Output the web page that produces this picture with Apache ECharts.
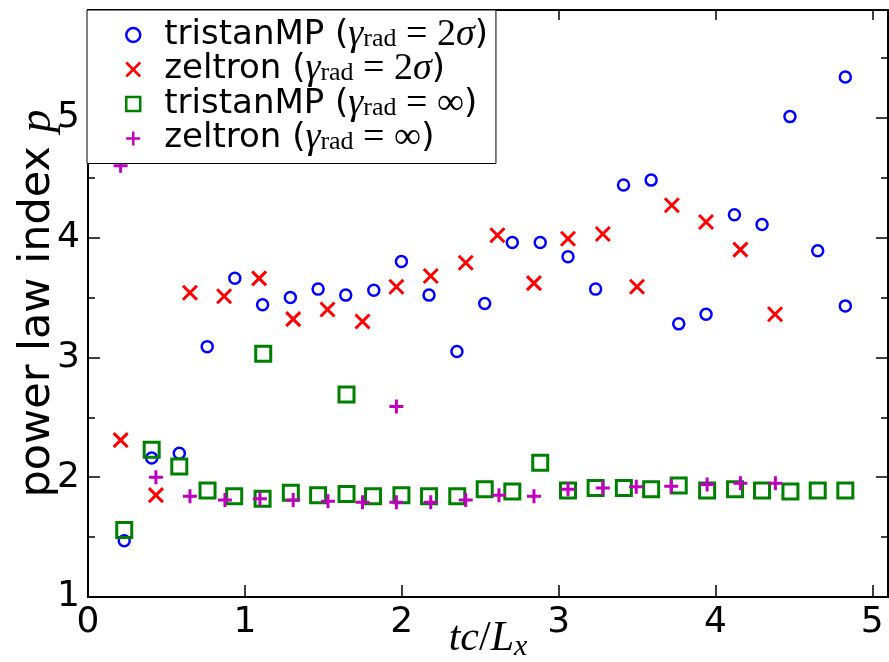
<!DOCTYPE html>
<html>
<head>
<meta charset="utf-8">
<script src="https://cdn.jsdelivr.net/npm/echarts@6/dist/echarts.min.js"></script>
<style>
  html, body { margin: 0; padding: 0; background: #fff; }
  #chart { width: 889px; height: 662px; }
</style>
</head>
<body>
<div id="chart"></div>
<script>
// ---- data ----
const xTicks = [0, 1, 2, 3, 4, 5];
const yTicks = [1, 2, 3, 4, 5];

const seriesNames = [
  'tristanMP (rad=2σ)',
  'zeltron (rad=2σ)',
  'tristanMP (rad=∞)',
  'zeltron (rad=∞)'
];

// tristanMP, gamma_rad = 2 sigma (blue circles)
const tristanTime = [0.231, 0.406, 0.582, 0.760, 0.936, 1.113, 1.290, 1.467, 1.643, 1.822, 1.998, 2.174, 2.352, 2.529, 2.705, 2.883, 3.060, 3.236, 3.414, 3.590, 3.766, 3.940, 4.121, 4.297, 4.475, 4.652, 4.828, 4.828];
const tristanRad  = [1.47, 2.16, 2.20, 3.09, 3.66, 3.44, 3.50, 3.57, 3.52, 3.56, 3.80, 3.52, 3.05, 3.45, 3.96, 3.96, 3.84, 3.57, 4.44, 4.48, 3.28, 3.36, 4.19, 4.11, 5.01, 3.89, 5.34, 3.43];

// zeltron, gamma_rad = 2 sigma (red crosses)
const zeltronTime = [0.208, 0.433, 0.650, 0.868, 1.091, 1.308, 1.527, 1.750, 1.966, 2.185, 2.408, 2.610, 2.843, 3.060, 3.282, 3.500, 3.722, 3.940, 4.159, 4.380];
const zeltronRad  = [2.31, 1.85, 3.54, 3.51, 3.66, 3.32, 3.40, 3.30, 3.59, 3.68, 3.79, 4.02, 3.62, 3.99, 4.03, 3.59, 4.27, 4.13, 3.90, 3.36];

// tristanMP, gamma_rad = infinity (green squares)
const tristanInfTime = [0.231, 0.406, 0.582, 0.762, 0.932, 1.113, 1.117, 1.293, 1.467, 1.648, 1.648, 1.817, 1.998, 2.174, 2.354, 2.529, 2.705, 2.883, 3.060, 3.236, 3.416, 3.590, 3.766, 3.947, 4.125, 4.297, 4.478, 4.652, 4.828];
const tristanInf     = [1.56, 2.23, 2.09, 1.89, 1.84, 1.82, 3.03, 1.87, 1.85, 1.86, 2.69, 1.84, 1.85, 1.84, 1.84, 1.90, 1.88, 2.12, 1.89, 1.91, 1.91, 1.90, 1.93, 1.89, 1.90, 1.89, 1.88, 1.89, 1.89];

// zeltron, gamma_rad = infinity (magenta plus)
const zeltronInfTime = [0.208, 0.433, 0.650, 0.873, 1.096, 1.308, 1.530, 1.750, 1.966, 1.966, 2.185, 2.408, 2.620, 2.843, 3.060, 3.282, 3.495, 3.718, 3.947, 4.159, 4.382];
const zeltronInf     = [4.60, 2.00, 1.84, 1.81, 1.82, 1.81, 1.80, 1.79, 1.79, 2.59, 1.79, 1.81, 1.85, 1.84, 1.90, 1.91, 1.92, 1.925, 1.94, 1.95, 1.95];

// ---- build ----
const zip = (xs, ys) => xs.map((x, i) => [x, ys[i]]);

const SANS = 'DejaVu Sans';
const SERIF = 'Liberation Serif';

const legendRich = {
  s:   { fontFamily: SANS, fontSize: 34, lineHeight: 34, color: '#000' },
  mi:  { fontFamily: SERIF, fontStyle: 'italic', fontSize: 38, lineHeight: 34, color: '#000' },
  mr:  { fontFamily: SERIF, fontSize: 38, lineHeight: 34, color: '#000' },
  sub: { fontFamily: SERIF, fontSize: 26, lineHeight: 20, verticalAlign: 'bottom', color: '#000' }
};

function legendFormatter(name) {
  const label = name.split(' (')[0];
  const isInf = name.indexOf('∞') >= 0;
  const rhs = isInf ? '{mr|∞}' : '{mr|2}{mi|σ}';
  return '{s|' + label + ' (}{mi|γ}{sub|rad}{mr| = }' + rhs + '{s|)}';
}

const axisLineStyle = { color: '#000', width: 2 };

function yAxisCfg(position, interval, tickLen, showLabel) {
  return {
    type: 'value', position: position, min: 1, max: 5.9, interval: interval,
    axisLine: { show: true, onZero: false, lineStyle: axisLineStyle },
    axisTick: { show: true, inside: true, length: tickLen, lineStyle: { color: '#000', width: 1.5 } },
    axisLabel: {
      show: showLabel, fontFamily: SANS, fontSize: 36, color: '#000', margin: 8,
      formatter: v => (yTicks.indexOf(v) >= 0 ? String(v) : '')
    },
    splitLine: { show: false }
  };
}

const option = {
  animation: false,
  backgroundColor: '#fff',
  grid: { left: 88, right: 1, top: 10, bottom: 65, containLabel: false, outerBoundsMode: 'none' },
  legend: {
    orient: 'vertical',
    left: 87, top: 10,
    padding: [6, 8, 6, 38],
    itemGap: -3.5,
    itemWidth: 14, itemHeight: 14,
    backgroundColor: '#fff',
    borderColor: '#000', borderWidth: 1, borderRadius: 0,
    itemStyle: { borderWidth: 2.5 },
    data: seriesNames,
    formatter: legendFormatter,
    textStyle: { rich: legendRich, padding: [0, 0, 0, 19] },
    selectedMode: false
  },
  xAxis: [
    {
      type: 'value', position: 'bottom', min: 0, max: 5.1, interval: 1,
      axisLine: { show: true, onZero: false, lineStyle: axisLineStyle },
      axisTick: { show: true, inside: true, length: 12, lineStyle: { color: '#000', width: 1.5 } },
      axisLabel: {
        fontFamily: SANS, fontSize: 36, color: '#000', margin: 8,
        formatter: v => (xTicks.indexOf(v) >= 0 ? String(v) : '')
      },
      splitLine: { show: false },
      name: '{i|tc}{r|/}{i|L}{sub|x}',
      nameLocation: 'middle',
      nameGap: 19,
      nameMoveOverlap: false,
      nameTextStyle: {
        rich: {
          i:   { fontFamily: SERIF, fontStyle: 'italic', fontSize: 42, lineHeight: 46, color: '#000' },
          r:   { fontFamily: SERIF, fontSize: 42, lineHeight: 46, color: '#000' },
          sub: { fontFamily: SERIF, fontStyle: 'italic', fontSize: 30, lineHeight: 24, verticalAlign: 'bottom', color: '#000' }
        }
      }
    },
    {
      type: 'value', position: 'top', min: 0, max: 5.1, interval: 1,
      axisLine: { show: true, onZero: false, lineStyle: axisLineStyle },
      axisTick: { show: true, inside: true, length: 10, lineStyle: { color: '#000', width: 1.5 } },
      axisLabel: { show: false },
      splitLine: { show: false }
    }
  ],
  yAxis: [
    Object.assign(yAxisCfg('left', 1, 12, true), {
      name: '{s|power law index }{i|p}',
      nameLocation: 'middle',
      nameRotate: 90,
      nameGap: 25,
      nameMoveOverlap: false,
      nameTextStyle: {
        rich: {
          s: { fontFamily: SANS, fontSize: 43, lineHeight: 50, color: '#000' },
          i: { fontFamily: SERIF, fontStyle: 'italic', fontSize: 46, lineHeight: 50, color: '#000' }
        }
      }
    }),
    yAxisCfg('left', 0.5, 7, false),
    yAxisCfg('right', 1, 12, false),
    yAxisCfg('right', 0.5, 7, false)
  ],
  series: [
    {
      name: seriesNames[0], type: 'scatter', xAxisIndex: 0, yAxisIndex: 0,
      data: zip(tristanTime, tristanRad),
      symbol: 'circle', symbolSize: 11,
      itemStyle: { color: 'rgba(0,0,0,0)', borderColor: '#0000ff', borderWidth: 2.5, opacity: 1 },
      z: 3
    },
    {
      name: seriesNames[1], type: 'scatter', xAxisIndex: 0, yAxisIndex: 0,
      data: zip(zeltronTime, zeltronRad),
      symbol: 'path://M0,0L10,10M10,0L0,10', symbolSize: 14,
      itemStyle: { color: 'rgba(0,0,0,0)', borderColor: '#ff0000', borderWidth: 3, opacity: 1 },
      z: 3
    },
    {
      name: seriesNames[2], type: 'scatter', xAxisIndex: 0, yAxisIndex: 0,
      data: zip(tristanInfTime, tristanInf),
      symbol: 'rect', symbolSize: 15,
      itemStyle: { color: 'rgba(0,0,0,0)', borderColor: '#008000', borderWidth: 3, opacity: 1 },
      z: 3
    },
    {
      name: seriesNames[3], type: 'scatter', xAxisIndex: 0, yAxisIndex: 0,
      data: zip(zeltronInfTime, zeltronInf),
      symbol: 'path://M0,5L10,5M5,0L5,10', symbolSize: 14,
      itemStyle: { color: 'rgba(0,0,0,0)', borderColor: '#bf00bf', borderWidth: 3, opacity: 1 },
      z: 3
    }
  ]
};

const chart = echarts.init(document.getElementById('chart'), null, { renderer: 'canvas' });
chart.setOption(option);
</script>
</body>
</html>
